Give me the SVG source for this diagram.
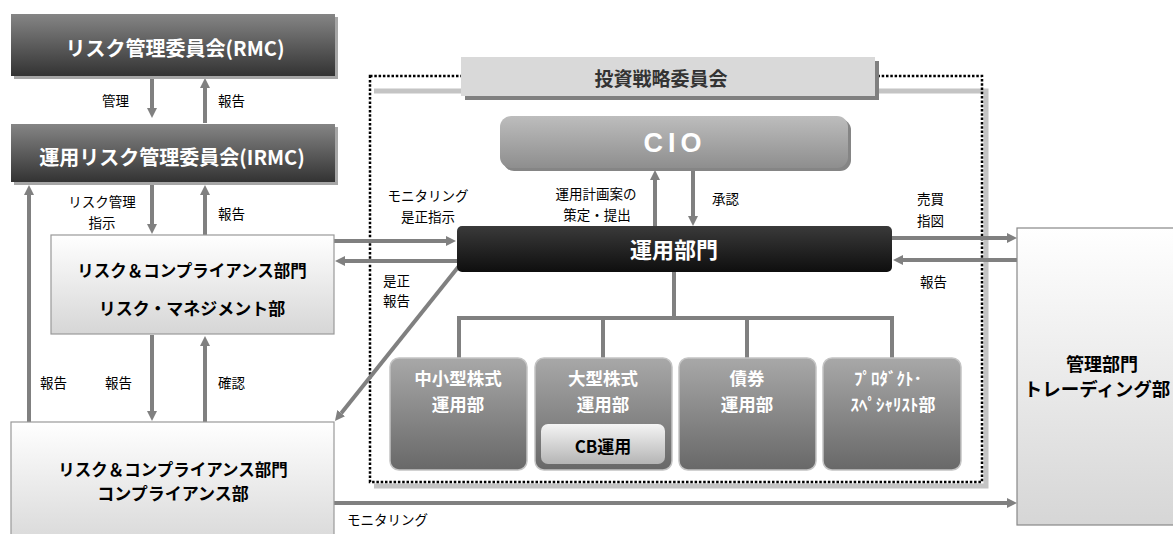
<svg xmlns="http://www.w3.org/2000/svg" width="1173" height="534" viewBox="0 0 1173 534">
<defs>
<linearGradient id="gDark" x1="0" y1="0" x2="0" y2="1"><stop offset="0" stop-color="#858585"/><stop offset="1" stop-color="#333333"/></linearGradient>
<linearGradient id="gLight" x1="0" y1="0" x2="0" y2="1"><stop offset="0" stop-color="#ffffff"/><stop offset="1" stop-color="#d6d6d6"/></linearGradient>
<linearGradient id="gCIO" x1="0" y1="0" x2="0" y2="1"><stop offset="0" stop-color="#bdbdbd"/><stop offset="1" stop-color="#8e8e8e"/></linearGradient>
<linearGradient id="gBlack" x1="0" y1="0" x2="0" y2="1"><stop offset="0" stop-color="#3a3a3a"/><stop offset="1" stop-color="#0e0e0e"/></linearGradient>
<linearGradient id="gSub" x1="0" y1="0" x2="0" y2="1"><stop offset="0" stop-color="#a8a8a8"/><stop offset="1" stop-color="#686868"/></linearGradient>
<linearGradient id="gCB" x1="0" y1="0" x2="0" y2="1"><stop offset="0" stop-color="#f4f4f4"/><stop offset="1" stop-color="#b5b5b5"/></linearGradient>
<marker id="ah" viewBox="0 0 10 10" markerWidth="10" markerHeight="10" markerUnits="userSpaceOnUse" refX="0" refY="5" orient="auto"><path d="M0,0 L10,5 L0,10 z" fill="#808080"/></marker>
</defs>
<style>
text{font-family:"Noto Sans CJK JP","Liberation Sans",sans-serif;}
.lbl{font-size:13.5px;fill:#000;}
.lblc{font-size:13.5px;fill:#000;text-anchor:middle;}
.wb{fill:#fff;font-weight:bold;text-anchor:middle;}
.bb{fill:#000;font-weight:bold;text-anchor:middle;}
.sub{font-size:17.5px;}
.arr{stroke:#808080;stroke-width:4;fill:none;marker-end:url(#ah);}
.tree{stroke:#808080;stroke-width:4;fill:none;}
.shadow{fill:#a6a6a6;}
</style>
<rect width="1173" height="534" fill="#fff"/>

<g id="container">
<path d="M374,91 L986,91 L986,486 L374,486" fill="none" stroke="#c4c4c4" stroke-width="5"/>
<rect x="370" y="76" width="612" height="406" fill="none" stroke="#000" stroke-width="2.5" stroke-dasharray="2.5 1.8"/>
</g>

<g id="title">
<rect x="465" y="61" width="414" height="39" fill="#808080"/>
<rect x="461" y="57" width="414" height="39" fill="#d9d9d9"/>
<text x="661" y="86" class="bb" style="fill:#333;font-size:19px">投資戦略委員会</text>
</g>

<g id="connectors">
<line class="arr" x1="152" y1="78" x2="152" y2="108"/>
<line class="arr" x1="205" y1="123" x2="205" y2="88"/>
<line class="arr" x1="29" y1="422" x2="29" y2="195"/>
<line class="arr" x1="152" y1="184" x2="152" y2="224"/>
<line class="arr" x1="205" y1="235" x2="205" y2="195"/>
<line class="arr" x1="152" y1="335" x2="152" y2="411"/>
<line class="arr" x1="205" y1="422" x2="205" y2="346"/>
<line class="arr" x1="334" y1="241" x2="446" y2="241"/>
<line class="arr" x1="457" y1="261" x2="345" y2="261"/>
<line class="arr" x1="459" y1="266" x2="341.2" y2="413.2"/>
<line class="arr" x1="655" y1="226" x2="655" y2="180"/>
<line class="arr" x1="693" y1="170" x2="693" y2="216"/>
<line class="arr" x1="892" y1="238" x2="1007" y2="238"/>
<line class="arr" x1="1017" y1="260" x2="903" y2="260"/>
<line class="arr" x1="334" y1="503" x2="1007" y2="503"/>
<path class="tree" d="M674,272 L674,318 M459,358 L459,318 L892,318 L892,358 M603,318 L603,358 M747,318 L747,358"/>
</g>

<g id="labels">
<text x="102" y="106" class="lbl">管理</text>
<text x="218" y="106" class="lbl">報告</text>
<text x="102" y="207" class="lblc">リスク管理</text>
<text x="102" y="228" class="lblc">指示</text>
<text x="218" y="219" class="lbl">報告</text>
<text x="40" y="388" class="lbl">報告</text>
<text x="105" y="388" class="lbl">報告</text>
<text x="218" y="388" class="lbl">確認</text>
<text x="428" y="201" class="lblc">モニタリング</text>
<text x="428" y="222" class="lblc">是正指示</text>
<text x="383" y="286" class="lbl">是正</text>
<text x="383" y="306" class="lbl">報告</text>
<text x="596" y="199" class="lblc">運用計画案の</text>
<text x="597" y="220" class="lblc">策定・提出</text>
<text x="712" y="204" class="lbl">承認</text>
<text x="917" y="204" class="lbl">売買</text>
<text x="917" y="226" class="lbl">指図</text>
<text x="920" y="287" class="lbl">報告</text>
<text x="347" y="525" class="lbl">モニタリング</text>
</g>

<g id="rmc">
<rect x="14" y="17" width="324" height="62" class="shadow"/>
<rect x="11" y="14" width="324" height="62" fill="url(#gDark)"/>
<text x="175" y="56" class="wb" style="font-size:20px">リスク管理委員会(RMC)</text>
</g>

<g id="irmc">
<rect x="14" y="127" width="324" height="58" class="shadow"/>
<rect x="11" y="124" width="324" height="58" fill="url(#gDark)"/>
<text x="172" y="165" class="wb" style="font-size:20px">運用リスク管理委員会(IRMC)</text>
</g>

<g id="riskmgmt">
<rect x="51" y="235" width="283" height="99" fill="url(#gLight)" stroke="#999" stroke-width="1.2"/>
<text x="192" y="277" class="bb" style="font-size:16.5px">リスク＆コンプライアンス部門</text>
<text x="192" y="315" class="bb" style="font-size:17px">リスク・マネジメント部</text>
</g>

<g id="compliance">
<rect x="11" y="422" width="323" height="130" fill="url(#gLight)" stroke="#999" stroke-width="1.2"/>
<text x="173" y="476" class="bb" style="font-size:16.5px">リスク＆コンプライアンス部門</text>
<text x="173" y="500" class="bb" style="font-size:17px">コンプライアンス部</text>
</g>

<g id="cio">
<rect x="503" y="119" width="348" height="52" rx="11" fill="#858585"/>
<rect x="500" y="116" width="348" height="52" rx="11" fill="url(#gCIO)"/>
<text x="675" y="152" class="wb" style="font-size:27px;letter-spacing:5px;font-family:'Liberation Sans',sans-serif">CIO</text>
</g>

<g id="unyo">
<rect x="457" y="226" width="435" height="46" rx="5" fill="url(#gBlack)"/>
<text x="674" y="258" class="wb" style="font-size:22px">運用部門</text>
</g>

<g id="smallcap">
<rect x="390" y="358" width="137" height="112" rx="9" fill="url(#gSub)" stroke="#c4c4c4" stroke-width="1.5"/>
<text x="458" y="385" class="wb sub">中小型株式</text>
<text x="458" y="411" class="wb sub">運用部</text>
</g>

<g id="largecap">
<rect x="535" y="358" width="137" height="112" rx="9" fill="url(#gSub)" stroke="#c4c4c4" stroke-width="1.5"/>
<text x="603" y="385" class="wb sub">大型株式</text>
<text x="603" y="411" class="wb sub">運用部</text>
</g>

<g id="cb">
<rect x="541" y="424" width="124" height="40" rx="7" fill="url(#gCB)"/>
<text x="603" y="453" class="bb" style="font-size:17px">CB運用</text>
</g>

<g id="bond">
<rect x="679" y="358" width="137" height="112" rx="9" fill="url(#gSub)" stroke="#c4c4c4" stroke-width="1.5"/>
<text x="747" y="385" class="wb sub">債券</text>
<text x="747" y="411" class="wb sub">運用部</text>
</g>

<g id="product">
<rect x="823" y="358" width="138" height="112" rx="9" fill="url(#gSub)" stroke="#c4c4c4" stroke-width="1.5"/>
<text x="888" y="385" class="wb" style="font-size:17px">ﾌﾟﾛﾀﾞｸﾄ･</text>
<text x="893" y="411" class="wb" style="font-size:17px">ｽﾍﾟｼｬﾘｽﾄ部</text>
</g>

<g id="trading">
<rect x="1017" y="228" width="170" height="297" fill="url(#gLight)" stroke="#888" stroke-width="1.2"/>
<text x="1102" y="371" class="bb" style="font-size:18px">管理部門</text>
<text x="1097" y="396" class="bb" style="font-size:18.5px">トレーディング部</text>
</g>
</svg>
